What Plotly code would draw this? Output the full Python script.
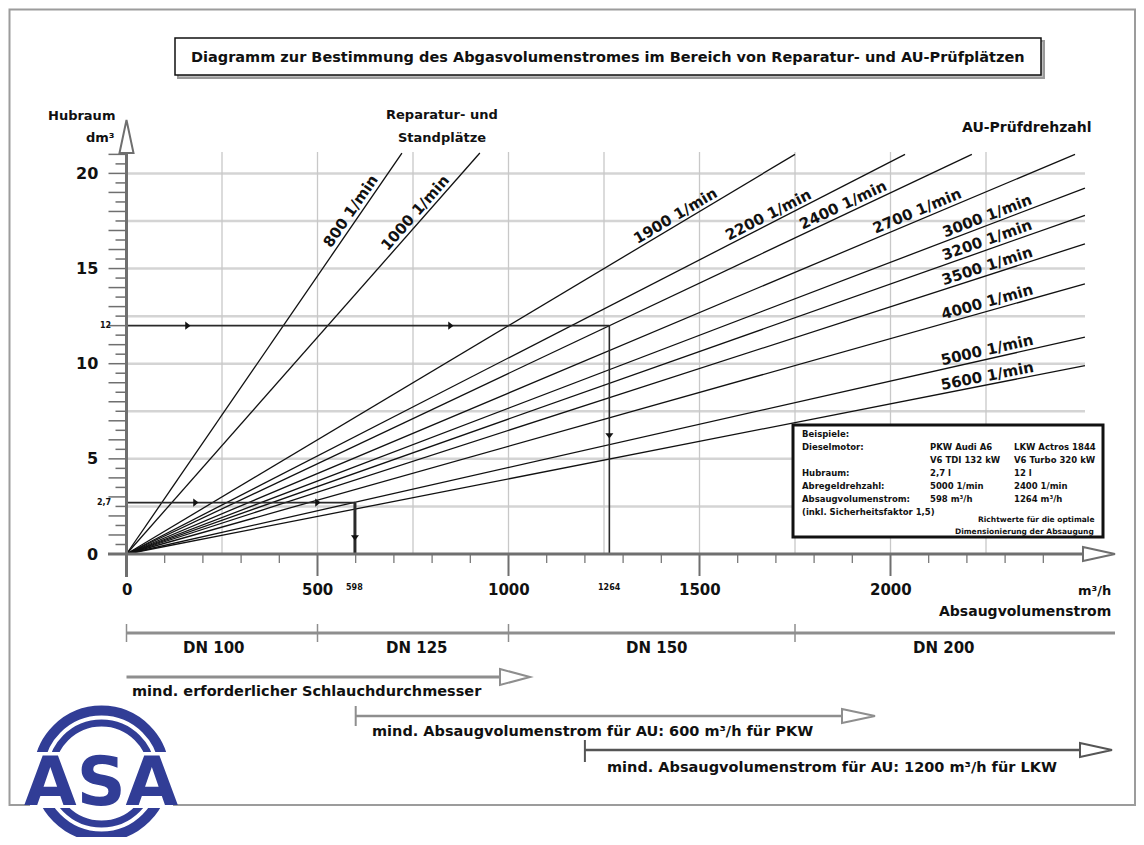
import math
import plotly.graph_objects as go

# ---------------- data ----------------
rpm_values = [800, 1000, 1900, 2200, 2400, 2700, 3000, 3200, 3500, 4000, 5000, 5600]
rpm_labels = ["800 1/min", "1000 1/min", "1900 1/min", "2200 1/min", "2400 1/min",
              "2700 1/min", "3000 1/min", "3200 1/min", "3500 1/min", "4000 1/min",
              "5000 1/min", "5600 1/min"]
line_end_flow = [721, 925, 1750, 2038, 2213, 2483, 2509, 2509, 2509, 2509, 2509, 2509]
line_end_displacement = [21.07, 21.07, 21.0, 21.0, 21.0, 21.0, 19.23, 17.8, 16.3, 14.2, 11.4, 9.9]

x_tick_values = [0, 500, 1000, 1500, 2000]
x_tick_labels = ["0", "500", "1000", "1500", "2000"]
x_minor_tick_values = [100, 200, 300, 400, 600, 700, 800, 900, 1100, 1200, 1300, 1400,
                       1600, 1700, 1800, 1900, 2100, 2200, 2300, 2400]
y_tick_values = [0, 5, 10, 15, 20]
y_tick_labels = ["0", "5", "10", "15", "20"]
y_small_tick_values = [v / 2 for v in range(1, 43)]
x_grid_values = [250, 500, 750, 1000, 1250, 1500, 1750, 2000, 2250]
y_grid_values = [2.5, 5, 7.5, 10, 12.5, 15, 17.5, 20]

dn_bounds = [0, 500, 1000, 1750]
dn_labels = ["DN 100", "DN 125", "DN 150", "DN 200"]
dn_label_flow = [230, 760, 1390, 2140]

min_flow_pkw = 600
min_flow_lkw = 1200

example_displacement = [2.7, 12]
example_flow = [598, 1264]
example_disp_labels = ["2,7", "12"]
example_flow_labels = ["598", "1264"]

box_col1 = ["Beispiele:", "Dieselmotor:", "", "Hubraum:", "Abregeldrehzahl:",
            "Absaugvolumenstrom:", "(inkl. Sicherheitsfaktor 1,5)"]
box_col2 = ["", "PKW Audi A6", "V6 TDI 132 kW", "2,7 l", "5000 1/min", "598 m³/h", ""]
box_col3 = ["", "LKW Actros 1844", "V6 Turbo 320 kW", "12 l", "2400 1/min", "1264 m³/h", ""]
box_note = ["Richtwerte für die optimale", "Dimensionierung der Absaugung"]

# ---------------- layout helpers (reference pixel -> data) ----------------
SX, X0 = 0.382, 126.5      # px per m³/h, px of x = 0
SY, Y0 = 19.03, 554.0      # px per dm³, px of y = 0
OFF = 8                    # page body margin
W, H = 1128, 829


def X(px):
    return (px - X0) / SX


def Y(py):
    return (Y0 - py) / SY


FONT = "DejaVu Sans"
BLACK = "#111111"
AXIS = "#6f6f6f"
BAND = "#8e8e8e"
GRID_H = "#d4d4d4"
GRID_V = "#c8c8c8"
BLUE = "#313d96"

shapes = []
annotations = []


def seg(x0, y0, x1, y1, color, width, layer="above"):
    shapes.append(dict(type="line", xref="x", yref="y", x0=x0, y0=y0, x1=x1, y1=y1,
                       line=dict(color=color, width=width), layer=layer))


def text(x, y, s, size=15, color=BLACK, xanchor="center", yanchor="middle",
         angle=0, bold=False, family=FONT):
    annotations.append(dict(x=x, y=y, xref="x", yref="y", text=s, showarrow=False,
                            xanchor=xanchor, yanchor=yanchor, textangle=angle,
                            font=dict(family=family, size=size, color=color,
                                      weight="bold" if bold else "normal")))


def arrow_right(base_px, tip_px, py, half=7, color=BAND):
    p = "M {},{} L {},{} L {},{} Z".format(X(base_px), Y(py - half), X(tip_px), Y(py),
                                           X(base_px), Y(py + half))
    shapes.append(dict(type="path", xref="x", yref="y", path=p, fillcolor="white",
                       line=dict(color=color, width=2), layer="above"))


# ---- outer frame ----
shapes.append(dict(type="rect", xref="x", yref="y", x0=X(9.5), x1=X(1135), y0=Y(9.5), y1=Y(805),
                   line=dict(color="#9c9c9c", width=2), layer="below"))

# ---- title box ----
shapes.append(dict(type="rect", xref="x", yref="y", x0=X(178), x1=X(1044), y0=Y(41), y1=Y(78),
                   line=dict(color="#9a9a9a", width=2), fillcolor="#bdbdbd", layer="below"))
shapes.append(dict(type="rect", xref="x", yref="y", x0=X(175), x1=X(1041), y0=Y(38), y1=Y(75),
                   line=dict(color=BLACK, width=1.5), fillcolor="white", layer="below"))
text(X(608), Y(56.5),
     "Diagramm zur Bestimmung des Abgasvolumenstromes im Bereich von Reparatur- und AU-Prüfplätzen",
     size=14.5, bold=True)

# ---- grid ----
for gy in y_grid_values:
    seg(0, gy, X(1085), gy, GRID_H, 2.5, layer="below")
for gx in x_grid_values:
    seg(gx, 0, gx, Y(152), GRID_V, 1.3, layer="below")

# ---- axes ----
seg(X(108), 0, X(1083), 0, AXIS, 3)
arrow_right(1083, 1115, Y0, half=7, color=AXIS)
seg(0, Y(577), 0, Y(153), AXIS, 3)
p = "M {},{} L {},{} L {},{} Z".format(X(X0 - 7), Y(153), X(X0), Y(120), X(X0 + 7), Y(153))
shapes.append(dict(type="path", xref="x", yref="y", path=p, fillcolor="white",
                   line=dict(color=AXIS, width=2), layer="above"))

for v in x_minor_tick_values:
    seg(v, 0, v, Y(Y0 + 9), AXIS, 1.2)
for v in x_tick_values:
    seg(v, 0, v, Y(Y0 + 22), AXIS, 2)
for v, lab in zip(x_tick_values, x_tick_labels):
    text(v, Y(590), lab, size=15, bold=True)
for v in y_small_tick_values:
    length = 18 if float(v).is_integer() else 11
    seg(X(X0 - length), v, 0, v, AXIS, 1.5)
for v, lab in zip(y_tick_values, y_tick_labels):
    text(X(100), v, lab, size=16, bold=True, xanchor="right")

text(X(117), Y(115), "Hubraum", size=13, bold=True, xanchor="right")
text(X(117), Y(137), "dm³", size=13, bold=True, xanchor="right")
text(X(1113), Y(590), "m³/h", size=13, bold=True, xanchor="right")
text(X(1113), Y(611), "Absaugvolumenstrom", size=14, bold=True, xanchor="right")
text(X(442), Y(114), "Reparatur- und", size=13, bold=True)
text(X(442), Y(137), "Standplätze", size=13, bold=True)
text(X(1027), Y(127), "AU-Prüfdrehzahl", size=14, bold=True)

# ---- rpm lines ----
traces = []
for r, xe, ye in zip(rpm_values, line_end_flow, line_end_displacement):
    traces.append(go.Scatter(x=[0, xe], y=[0, ye], mode="lines",
                             line=dict(color=BLACK, width=1.3), showlegend=False,
                             hoverinfo="skip"))

label_center_px = [351, 415, 675, 768, 843, 917, 987, 987, 987, 987, 987, 987]
LABEL_OFF = 9
for lab, xe, ye, cx in zip(rpm_labels, line_end_flow, line_end_displacement, label_center_px):
    ang = math.atan2(ye * SY, xe * SX)
    lx_px = cx + LABEL_OFF * math.sin(ang)
    lx = X(lx_px)
    ly_px = Y0 - (lx * ye / xe) * SY
    cy_px = ly_px - LABEL_OFF * math.cos(ang)
    text(X(cx), Y(cy_px), lab, size=15, bold=True, angle=-math.degrees(ang))

# ---- example lines ----
ex_colors = "#2a2a2a"
for d, f in zip(example_displacement, example_flow):
    traces.append(go.Scatter(x=[0, f], y=[d, d], mode="lines",
                             line=dict(color=ex_colors, width=1.6), showlegend=False,
                             hoverinfo="skip"))
traces.append(go.Scatter(x=[example_flow[1], example_flow[1]], y=[example_displacement[1], 0],
                         mode="lines", line=dict(color=ex_colors, width=1.6),
                         showlegend=False, hoverinfo="skip"))
traces.append(go.Scatter(x=[example_flow[0], example_flow[0]], y=[example_displacement[0], 0],
                         mode="lines", line=dict(color=ex_colors, width=3),
                         showlegend=False, hoverinfo="skip"))
traces.append(go.Scatter(x=[X(187), X(450), X(195), X(317)],
                         y=[example_displacement[1], example_displacement[1],
                            example_displacement[0], example_displacement[0]],
                         mode="markers", marker=dict(symbol="triangle-right", size=7, color=BLACK),
                         showlegend=False, hoverinfo="skip"))
traces.append(go.Scatter(x=[example_flow[1], example_flow[0]], y=[Y(435), Y(537)],
                         mode="markers", marker=dict(symbol="triangle-down", size=7, color=BLACK),
                         showlegend=False, hoverinfo="skip"))
for d, lab in zip(example_displacement, example_disp_labels):
    text(X(113), d, lab, size=8, bold=True, xanchor="right")
for f, lab in zip(example_flow, example_flow_labels):
    text(f, Y(587), lab, size=8, bold=True)

# ---- example box ----
shapes.append(dict(type="rect", xref="x", yref="y", x0=X(793), x1=X(1103), y0=Y(425), y1=Y(537),
                   line=dict(color=BLACK, width=3), fillcolor="white", layer="above"))
rows_py = [434, 447, 460, 473, 486, 499, 512]
for py, a, b, c in zip(rows_py, box_col1, box_col2, box_col3):
    if a:
        text(X(800), Y(py), a, size=8.5, bold=True, xanchor="left")
    if b:
        text(X(928), Y(py), b, size=8.5, bold=True, xanchor="left")
    if c:
        text(X(1012), Y(py), c, size=8.5, bold=True, xanchor="left")
for py, s in zip([519, 531], box_note):
    text(X(1096), Y(py), s, size=7.5, bold=True, xanchor="right")

# ---- DN band ----
seg(0, Y(633), X(1115), Y(633), BAND, 3)
for b in dn_bounds:
    seg(b, Y(624), b, Y(642), BAND, 1.5)
for f, lab in zip(dn_label_flow, dn_labels):
    text(f, Y(648), lab, size=15, bold=True)

# ---- hose / minimum flow arrows ----
seg(0, Y(677), X(500), Y(677), BAND, 3)
arrow_right(500, 530, 677, half=8)
text(X(130), Y(691), "mind. erforderlicher Schlauchdurchmesser", size=14.5, bold=True,
     xanchor="left")

seg(min_flow_pkw, Y(716), X(842), Y(716), BAND, 2.5)
seg(min_flow_pkw, Y(706), min_flow_pkw, Y(726), BAND, 2)
arrow_right(842, 875, 716, half=7)
text(X(370), Y(731), "mind. Absaugvolumenstrom für AU: 600 m³/h für PKW", size=14.5, bold=True,
     xanchor="left")

seg(min_flow_lkw, Y(750), X(1080), Y(750), "#555555", 2.5)
seg(min_flow_lkw, Y(740), min_flow_lkw, Y(762), "#555555", 2)
arrow_right(1080, 1112, 750, half=7, color="#555555")
text(X(605), Y(767), "mind. Absaugvolumenstrom für AU: 1200 m³/h für LKW", size=14.5, bold=True,
     xanchor="left")

# ---- ASA logo ----
CX, CY = 101.5, 773.5


def circle(r, **kw):
    d = dict(type="circle", xref="x", yref="y", x0=X(CX - r), x1=X(CX + r),
             y0=Y(CY + r), y1=Y(CY - r), layer="above")
    d.update(kw)
    shapes.append(d)


circle(71, fillcolor="white", line=dict(width=0))
circle(63, line=dict(color=BLUE, width=10))
circle(50.5, line=dict(color=BLUE, width=7))
shapes.append(dict(type="rect", xref="x", yref="y", x0=X(30), x1=X(173), y0=Y(752), y1=Y(808),
                   fillcolor="white", line=dict(width=0), layer="above"))
text(X(CX), Y(781), "ASA", size=68, bold=True, color=BLUE, family="DejaVu Sans")

fig = go.Figure(data=traces)
fig.update_layout(
    width=W, height=H, margin=dict(l=0, r=0, t=0, b=0),
    paper_bgcolor="white", plot_bgcolor="white",
    xaxis=dict(range=[X(OFF), X(OFF + W)], visible=False, fixedrange=True),
    yaxis=dict(range=[Y(OFF + H), Y(OFF)], visible=False, fixedrange=True),
    shapes=shapes, annotations=annotations, showlegend=False,
)
fig.write_html("out.html")
